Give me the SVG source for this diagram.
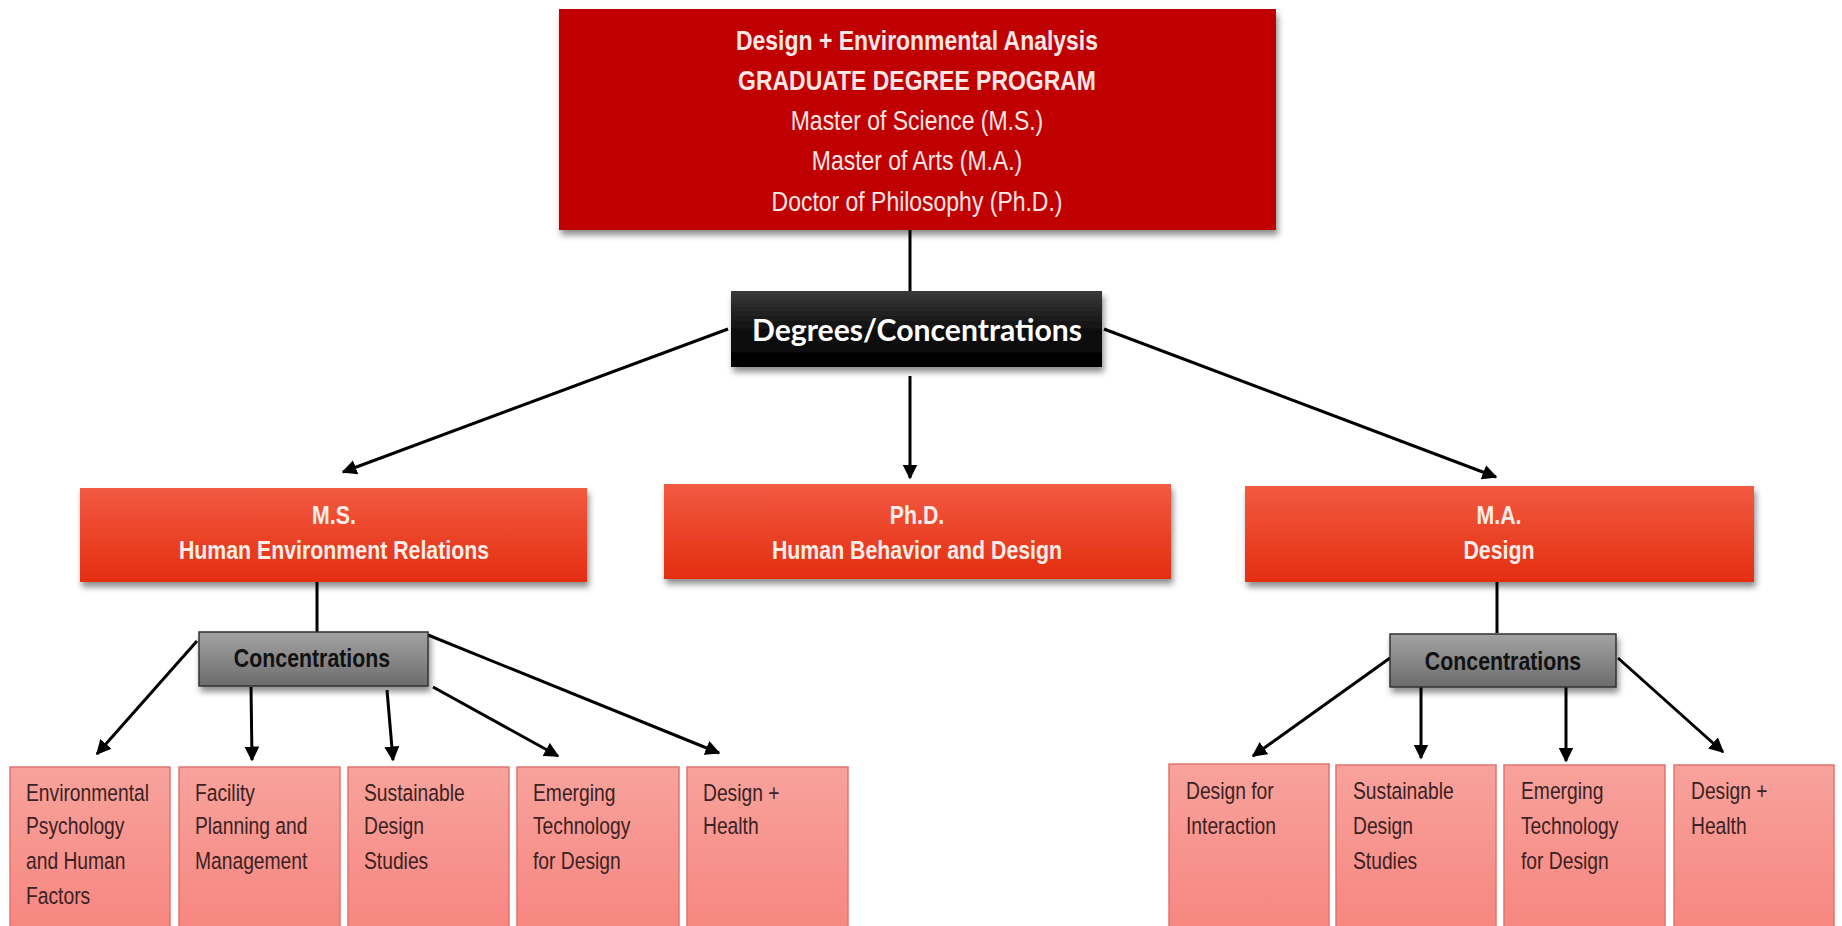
<svg xmlns="http://www.w3.org/2000/svg" width="1842" height="926" viewBox="0 0 1842 926">
<defs>
<linearGradient id="gRed" x1="0" y1="0" x2="0" y2="1"><stop offset="0" stop-color="#F25A42"/><stop offset="1" stop-color="#E42E10"/></linearGradient>
<linearGradient id="gBlack" x1="0" y1="0" x2="0" y2="1"><stop offset="0" stop-color="#3a3a3a"/><stop offset="0.5" stop-color="#111"/><stop offset="1" stop-color="#000"/></linearGradient>
<linearGradient id="gGray" x1="0" y1="0" x2="0" y2="1"><stop offset="0" stop-color="#a3a3a3"/><stop offset="1" stop-color="#6c6c6c"/></linearGradient>
<linearGradient id="gPink" x1="0" y1="0" x2="0" y2="1"><stop offset="0" stop-color="#F8A29C"/><stop offset="1" stop-color="#F7857F"/></linearGradient>
<filter id="sh" x="-10%" y="-10%" width="120%" height="130%"><feDropShadow dx="2" dy="5" stdDeviation="3" flood-color="#000" flood-opacity="0.45"/></filter>
<marker id="ah" viewBox="0 0 10 10" refX="9" refY="5" markerWidth="5" markerHeight="5" orient="auto" markerUnits="strokeWidth"><path d="M0,0 L10,5 L0,10 z" fill="#000"/></marker>
<style>
.nar{font-family:"Liberation Sans",Arial,sans-serif;}
.top{font-size:28px;fill:#FCE6E6;text-anchor:middle;}
.b{font-weight:bold;}
.deg{font-size:26px;fill:#FDEDE8;text-anchor:middle;font-weight:bold;}
.conc{font-size:26px;fill:#111;text-anchor:middle;font-weight:bold;}
.leaf{font-size:23.5px;fill:#3a2222;}
.ln{stroke:#000;stroke-width:3;fill:none;}
.ar{stroke:#000;stroke-width:3;fill:none;marker-end:url(#ah);}
</style>
</defs>
<rect width="1842" height="926" fill="#fff"/>
<g id="connectors">
<line class="ln" x1="910" y1="230" x2="910" y2="291"/>
<line class="ar" x1="728" y1="329" x2="343" y2="472"/>
<line class="ar" x1="910" y1="376" x2="910" y2="478"/>
<line class="ar" x1="1104" y1="329" x2="1496" y2="477"/>
<line class="ln" x1="317" y1="582" x2="317" y2="632"/>
<line class="ar" x1="197" y1="641" x2="97" y2="754"/>
<line class="ar" x1="251" y1="687" x2="252" y2="760"/>
<line class="ar" x1="387" y1="690" x2="393" y2="760"/>
<line class="ar" x1="433" y1="687" x2="558" y2="756"/>
<line class="ar" x1="428" y1="635" x2="719" y2="753"/>
<line class="ln" x1="1497" y1="582" x2="1497" y2="633"/>
<line class="ar" x1="1390" y1="658" x2="1253" y2="756"/>
<line class="ar" x1="1421" y1="687" x2="1421" y2="758"/>
<line class="ar" x1="1566" y1="687" x2="1566" y2="761"/>
<line class="ar" x1="1618" y1="658" x2="1723" y2="752"/>
</g>
<g id="top">
<rect x="559" y="9" width="717" height="221" fill="#C00000" filter="url(#sh)"/>
<text class="nar top b" transform="translate(917,50) scale(0.82,1)">Design + Environmental Analysis</text>
<text class="nar top b" transform="translate(917,90) scale(0.82,1)">GRADUATE DEGREE PROGRAM</text>
<text class="nar top" transform="translate(917,130) scale(0.82,1)">Master of Science (M.S.)</text>
<text class="nar top" transform="translate(917,170) scale(0.82,1)">Master of Arts (M.A.)</text>
<text class="nar top" transform="translate(917,211) scale(0.82,1)">Doctor of Philosophy (Ph.D.)</text>
</g>
<g id="degrees">
<rect x="731" y="291" width="371" height="76" fill="url(#gBlack)" filter="url(#sh)"/>
<text x="917" y="341" font-family="Lato,'Open Sans',sans-serif" font-weight="bold" font-size="30" fill="#fff" text-anchor="middle" textLength="330" lengthAdjust="spacingAndGlyphs">Degrees/Concentrations</text>
</g>
<g id="ms">
<rect x="80" y="488" width="507" height="94" fill="url(#gRed)" filter="url(#sh)"/>
<text class="nar deg" transform="translate(334,524) scale(0.82,1)">M.S.</text>
<text class="nar deg" transform="translate(334,559) scale(0.82,1)">Human Environment Relations</text>
</g>
<g id="phd">
<rect x="664" y="484" width="507" height="95" fill="url(#gRed)" filter="url(#sh)"/>
<text class="nar deg" transform="translate(917,524) scale(0.82,1)">Ph.D.</text>
<text class="nar deg" transform="translate(917,559) scale(0.82,1)">Human Behavior and Design</text>
</g>
<g id="ma">
<rect x="1245" y="486" width="509" height="96" fill="url(#gRed)" filter="url(#sh)"/>
<text class="nar deg" transform="translate(1499,524) scale(0.82,1)">M.A.</text>
<text class="nar deg" transform="translate(1499,559) scale(0.82,1)">Design</text>
</g>
<g id="conc-ms">
<rect x="199" y="632" width="229" height="54" fill="url(#gGray)" stroke="#333" stroke-width="1.5" filter="url(#sh)"/>
<text class="nar conc" transform="translate(312,667) scale(0.82,1)">Concentrations</text>
</g>
<g id="conc-ma">
<rect x="1390" y="634" width="226" height="53" fill="url(#gGray)" stroke="#333" stroke-width="1.5" filter="url(#sh)"/>
<text class="nar conc" transform="translate(1503,670) scale(0.82,1)">Concentrations</text>
</g>
<g id="ms-env">
<rect x="10" y="767" width="160" height="170" fill="url(#gPink)" stroke="#E07470" stroke-width="1.5"/>
<text class="nar leaf" transform="translate(26,801) scale(0.82,1)">Environmental</text>
<text class="nar leaf" transform="translate(26,834) scale(0.82,1)">Psychology</text>
<text class="nar leaf" transform="translate(26,869) scale(0.82,1)">and Human</text>
<text class="nar leaf" transform="translate(26,904) scale(0.82,1)">Factors</text>
</g>
<g id="ms-facility">
<rect x="179" y="767" width="161" height="170" fill="url(#gPink)" stroke="#E07470" stroke-width="1.5"/>
<text class="nar leaf" transform="translate(195,801) scale(0.82,1)">Facility</text>
<text class="nar leaf" transform="translate(195,834) scale(0.82,1)">Planning and</text>
<text class="nar leaf" transform="translate(195,869) scale(0.82,1)">Management</text>
</g>
<g id="ms-sustain">
<rect x="348" y="767" width="161" height="170" fill="url(#gPink)" stroke="#E07470" stroke-width="1.5"/>
<text class="nar leaf" transform="translate(364,801) scale(0.82,1)">Sustainable</text>
<text class="nar leaf" transform="translate(364,834) scale(0.82,1)">Design</text>
<text class="nar leaf" transform="translate(364,869) scale(0.82,1)">Studies</text>
</g>
<g id="ms-emerging">
<rect x="517" y="767" width="162" height="170" fill="url(#gPink)" stroke="#E07470" stroke-width="1.5"/>
<text class="nar leaf" transform="translate(533,801) scale(0.82,1)">Emerging</text>
<text class="nar leaf" transform="translate(533,834) scale(0.82,1)">Technology</text>
<text class="nar leaf" transform="translate(533,869) scale(0.82,1)">for Design</text>
</g>
<g id="ms-health">
<rect x="687" y="767" width="161" height="170" fill="url(#gPink)" stroke="#E07470" stroke-width="1.5"/>
<text class="nar leaf" transform="translate(703,801) scale(0.82,1)">Design +</text>
<text class="nar leaf" transform="translate(703,834) scale(0.82,1)">Health</text>
</g>
<g id="ma-interaction">
<rect x="1169" y="764" width="160" height="170" fill="url(#gPink)" stroke="#E07470" stroke-width="1.5"/>
<text class="nar leaf" transform="translate(1186,799) scale(0.82,1)">Design for</text>
<text class="nar leaf" transform="translate(1186,834) scale(0.82,1)">Interaction</text>
</g>
<g id="ma-sustain">
<rect x="1336" y="765" width="160" height="170" fill="url(#gPink)" stroke="#E07470" stroke-width="1.5"/>
<text class="nar leaf" transform="translate(1353,799) scale(0.82,1)">Sustainable</text>
<text class="nar leaf" transform="translate(1353,834) scale(0.82,1)">Design</text>
<text class="nar leaf" transform="translate(1353,869) scale(0.82,1)">Studies</text>
</g>
<g id="ma-emerging">
<rect x="1504" y="765" width="161" height="170" fill="url(#gPink)" stroke="#E07470" stroke-width="1.5"/>
<text class="nar leaf" transform="translate(1521,799) scale(0.82,1)">Emerging</text>
<text class="nar leaf" transform="translate(1521,834) scale(0.82,1)">Technology</text>
<text class="nar leaf" transform="translate(1521,869) scale(0.82,1)">for Design</text>
</g>
<g id="ma-health">
<rect x="1674" y="765" width="160" height="170" fill="url(#gPink)" stroke="#E07470" stroke-width="1.5"/>
<text class="nar leaf" transform="translate(1691,799) scale(0.82,1)">Design +</text>
<text class="nar leaf" transform="translate(1691,834) scale(0.82,1)">Health</text>
</g>
</svg>
